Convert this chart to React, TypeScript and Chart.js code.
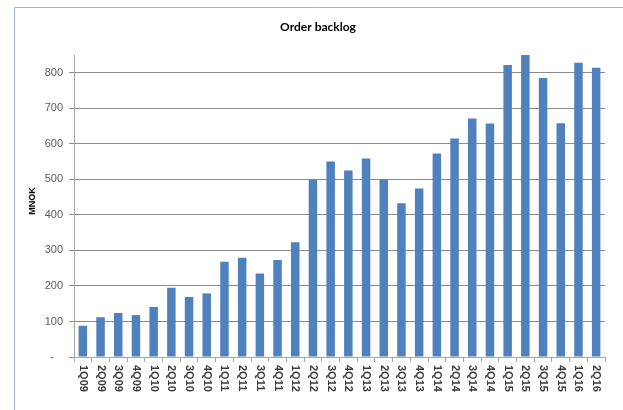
import { useEffect, useRef } from 'react';
import { Chart, registerables } from 'chart.js';

Chart.register(...registerables);

const chartTitle = 'Order backlog';
const yAxisTitle = 'MNOK';

const categories = [
  '1Q09', '2Q09', '3Q09', '4Q09',
  '1Q10', '2Q10', '3Q10', '4Q10',
  '1Q11', '2Q11', '3Q11', '4Q11',
  '1Q12', '2Q12', '3Q12', '4Q12',
  '1Q13', '2Q13', '3Q13', '4Q13',
  '1Q14', '2Q14', '3Q14', '4Q14',
  '1Q15', '2Q15', '3Q15', '4Q15',
  '1Q16', '2Q16',
];

const backlog = [
  88, 112, 124, 118,
  141, 195, 169, 179,
  268, 279, 235, 273,
  323, 499, 550, 525,
  559, 500, 433, 474,
  573, 615, 671, 657,
  822, 851, 785, 658,
  828, 814,
];

const yMin = 0;
const yMax = 850;
const yStep = 100;

const SANS = "'Liberation Sans', Arial, sans-serif";
const TITLE_FONT = "Lato, 'Liberation Sans', Arial, sans-serif";

export default function App() {
  const ref = useRef<HTMLCanvasElement>(null);

  useEffect(() => {
    const canvas = ref.current;
    if (!canvas) return;

    const framePlugin = {
      id: 'frame',
      beforeDraw(chart: any) {
        const ctx = chart.ctx;
        ctx.save();
        ctx.fillStyle = '#ffffff';
        ctx.fillRect(0, 0, chart.width, chart.height);
        ctx.strokeStyle = '#9ab6da';
        ctx.lineWidth = 1;
        ctx.beginPath();
        ctx.moveTo(14.5, chart.height);
        ctx.lineTo(14.5, 7.5);
        ctx.lineTo(chart.width, 7.5);
        ctx.stroke();
        ctx.restore();
      },
    };

    const labelPlugin = {
      id: 'axisLabels',
      afterDraw(chart: any) {
        const ctx = chart.ctx;
        const xs = chart.scales.x;
        const ys = chart.scales.y;
        ctx.save();
        // category labels, reading top to bottom
        ctx.font = `bold 11px ${SANS}`;
        ctx.fillStyle = '#3a3a3a';
        ctx.textAlign = 'left';
        ctx.textBaseline = 'middle';
        categories.forEach((c, i) => {
          const x = xs.getPixelForValue(i);
          ctx.save();
          ctx.translate(x, xs.top + 8);
          ctx.rotate(Math.PI / 2);
          ctx.fillText(c, 0, 0);
          ctx.restore();
        });
        // value axis title
        ctx.font = `bold 9px ${SANS}`;
        ctx.fillStyle = '#000000';
        ctx.textAlign = 'center';
        ctx.textBaseline = 'middle';
        ctx.translate(33, (ys.top + ys.bottom) / 2 - 5);
        ctx.rotate(-Math.PI / 2);
        ctx.fillText(yAxisTitle, 0, 0);
        ctx.restore();
      },
    };

    const chart = new Chart(canvas, {
      type: 'bar',
      data: {
        labels: categories,
        datasets: [
          {
            data: backlog,
            backgroundColor: '#4f81bd',
            borderWidth: 0,
            barPercentage: 0.48,
            categoryPercentage: 1,
          },
        ],
      },
      options: {
        animation: false,
        responsive: false,
        devicePixelRatio: 1,
        layout: { padding: { left: 31, right: 18, top: 0, bottom: 0 } },
        plugins: {
          legend: { display: false },
          tooltip: { enabled: false },
          title: {
            display: true,
            text: chartTitle,
            color: '#000000',
            font: { family: TITLE_FONT, size: 12, weight: 'bold', lineHeight: 1.2 },
            padding: { top: 20.3, bottom: 20.3 },
          },
        },
        scales: {
          x: {
            grid: {
              offset: true,
              drawOnChartArea: false,
              drawTicks: true,
              tickLength: 5,
              color: '#a6a6a6',
            },
            border: { color: '#a6a6a6' },
            ticks: { display: false },
            afterFit: (s: any) => {
              s.height = 53;
            },
          },
          y: {
            min: yMin,
            max: yMax,
            ticks: {
              stepSize: yStep,
              includeBounds: false,
              color: '#595959',
              font: { family: SANS, size: 11 },
              padding: 6,
              callback: (v: any) => (Number(v) === 0 ? '-   ' : String(v)),
            },
            grid: { color: '#8c8c8c', tickLength: 5 },
            border: { color: '#a6a6a6' },
            afterFit: (s: any) => {
              s.width = 43;
            },
          },
        },
      },
      plugins: [framePlugin, labelPlugin],
    } as any);

    return () => chart.destroy();
  }, []);

  return (
    <div style={{ position: 'absolute', left: 0, top: 0, width: 623, height: 410, background: '#fff' }}>
      <canvas ref={ref} width={623} height={410} style={{ display: 'block' }} />
    </div>
  );
}
